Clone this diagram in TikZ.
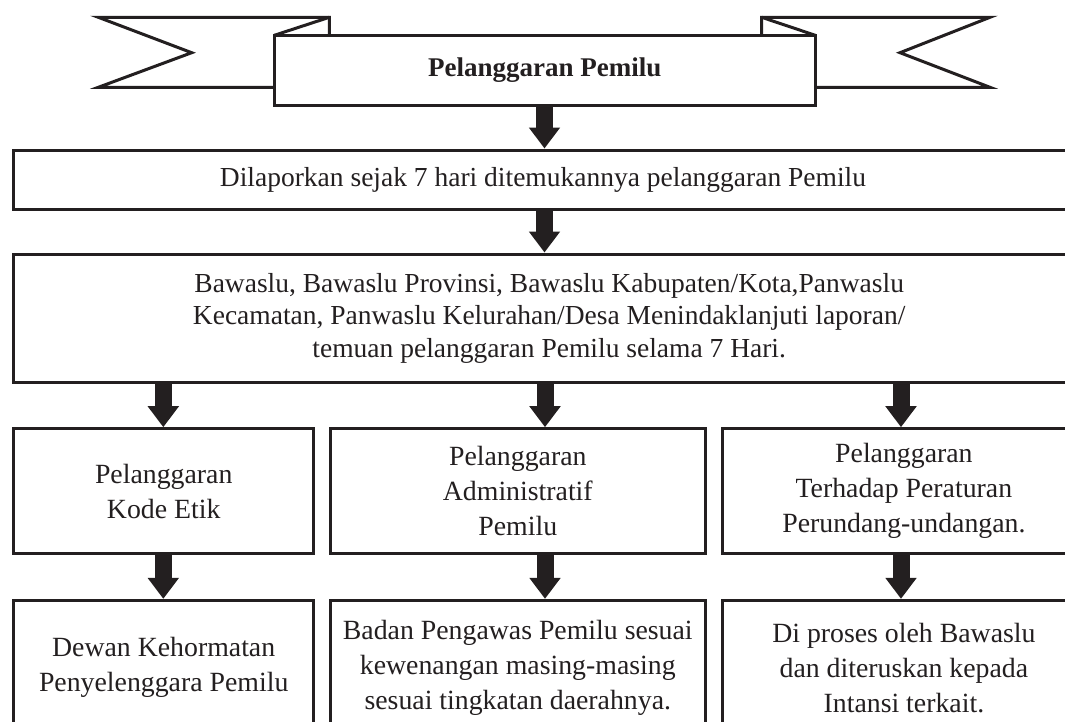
\documentclass[tikz,border=0pt]{standalone}
\usepackage{fontspec}
\setmainfont{Liberation Serif}
\usetikzlibrary{arrows.meta}
\definecolor{ink}{HTML}{231F20}
\begin{document}
\begin{tikzpicture}[x=1pt,y=-1pt,
  box/.style={draw=ink, line width=3pt, fill=white, inner sep=0pt, align=center,
    text=ink, font=\fontsize{27.8}{35}\selectfont},
  widebox/.style={box, font=\fontsize{27.5}{32.5}\selectfont},
  titlebox/.style={box, font=\fontsize{27}{30}\selectfont\bfseries},
  tail/.style={draw=ink, line width=3pt, fill=white, line join=miter},
  conn/.style={draw=ink, line width=17pt, -{Triangle[width=30pt,length=21pt]}},
]
\useasboundingbox (0,0) rectangle (1065,721);
\clip (0,0) rectangle (1065,721);

% banner tails
\draw[tail] (274.3,87.3) -- (98.3,87.3) -- (191.7,52.7) -- (98.3,17.3) -- (329.3,17.3) -- (329.3,35.3);
\draw[tail] (329.3,17.3) -- (274.3,35.3);
\draw[tail] (815.3,87.3) -- (990,87.3) -- (900,52.7) -- (990,17.3) -- (761.7,17.3) -- (761.7,35.3);
\draw[tail] (761.7,17.3) -- (815.3,35.3);

% title
\node[titlebox, minimum width=541pt, minimum height=70pt] (title) at (544.8,70.3) {Pelanggaran Pemilu};

% wide boxes
\node[widebox, minimum width=1059pt, minimum height=59pt] (b1) at (543,179.5)
  {Dilaporkan sejak 7 hari ditemukannya pelanggaran Pemilu};
\node[widebox, minimum width=1071pt, minimum height=128pt] (b2) at (549.2,318)
  {Bawaslu, Bawaslu Provinsi, Bawaslu Kabupaten/Kota,Panwaslu\\
   Kecamatan, Panwaslu Kelurahan/Desa Menindaklanjuti laporan/\\
   temuan pelanggaran Pemilu selama 7 Hari.};

% column row 1
\node[box, minimum width=300pt, minimum height=125pt] (c1) at (163.7,491.2)
  {Pelanggaran\\Kode Etik};
\node[box, minimum width=375pt, minimum height=125pt] (c2) at (517.8,491.2)
  {Pelanggaran\\Administratif\\Pemilu};
\node[box, minimum width=362.3pt, minimum height=125pt] (c3) at (903.9,491.2)
  {Pelanggaran\\Terhadap Peraturan\\Perundang-undangan.};

% column row 2
\node[box, minimum width=300pt, minimum height=134.7pt] (d1) at (163.7,667.7)
  {Dewan Kehormatan\\Penyelenggara Pemilu};
\node[box, minimum width=375pt, minimum height=134.7pt] (d2) at (517.8,667.7)
  {Badan Pengawas Pemilu sesuai\\kewenangan masing-masing\\sesuai tingkatan daerahnya.};
\node[box, minimum width=362.3pt, minimum height=134.7pt] (d3) at (903.9,667.7)
  {Di proses oleh Bawaslu\\dan diteruskan kepada\\Intansi terkait.};

% arrow positions
\coordinate (xm) at (544.5,0);
\coordinate (xl) at (163.3,0);
\coordinate (xc) at (545,0);
\coordinate (xr) at (901,0);

% connectors
\draw[conn] (title.south -| xm) -- (b1.north -| xm);
\draw[conn] (b1.south -| xm) -- (b2.north -| xm);
\draw[conn] (b2.south -| xl) -- (c1.north -| xl);
\draw[conn] (b2.south -| xc) -- (c2.north -| xc);
\draw[conn] (b2.south -| xr) -- (c3.north -| xr);
\draw[conn] (c1.south -| xl) -- (d1.north -| xl);
\draw[conn] (c2.south -| xc) -- (d2.north -| xc);
\draw[conn] (c3.south -| xr) -- (d3.north -| xr);
\end{tikzpicture}
\end{document}
